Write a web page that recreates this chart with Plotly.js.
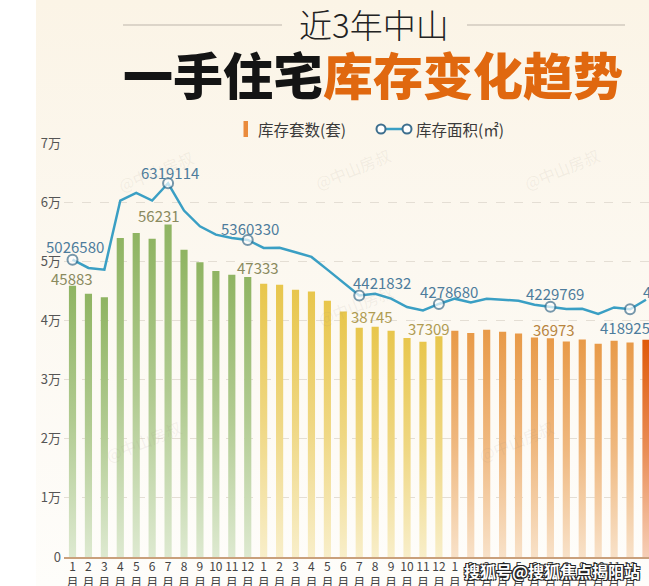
<!DOCTYPE html>
<html>
<head>
<meta charset="utf-8">
<script src="https://cdn.plot.ly/plotly-3.0.1.min.js"></script>
<style>
  html, body { margin:0; padding:0; background:#ffffff; }
  #wrap { position:relative; width:649px; height:586px; overflow:hidden; background:#ffffff; }
  #panel { position:absolute; left:36px; top:0; width:613px; height:586px;
           background:linear-gradient(#fbf4e6 0%, #fcf8f0 45%, #fefdfa 100%); }
  #chart { position:absolute; left:0; top:0; width:649px; height:586px; }
</style>
</head>
<body>
<div id="wrap"><div id="panel"></div><div id="chart"></div></div>
<script>
// ---------- data ----------
var months = [1,2,3,4,5,6,7,8,9,10,11,12,
              1,2,3,4,5,6,7,8,9,10,11,12,
              1,2,3,4,5,6,7,8,9,10,11,12,
              1];
var stockUnits = [45883,44520,43900,53950,54800,53830,56231,51970,49820,48370,47740,47333,
                  46220,46050,45200,44910,43340,41530,38745,38940,38260,37020,36400,37309,
                  38260,37870,38430,38090,37800,37130,36973,36450,36790,36060,36570,36280,
                  36740];
var stockArea = [5026580,4887000,4859000,6027000,6157000,6027000,6319114,5857000,5592000,5451000,5395000,5360330,
                 5226000,5230000,5152000,5074000,4859000,4634000,4421832,4452000,4368000,4227000,4170000,4278680,
                 4368000,4305000,4368000,4351000,4334000,4266000,4229769,4193000,4198000,4109000,4220000,4189255,
                 4350000];
var yearGroup = [0,0,0,0,0,0,0,0,0,0,0,0,
                 1,1,1,1,1,1,1,1,1,1,1,1,
                 2,2,2,2,2,2,2,2,2,2,2,2,
                 3];
var groupColors = ['#8fb462', '#e8c64c', '#e89a48', '#e05a0a'];
var unitLabelColors = ['#8a8a5e', '#b09c52', '#b8843e', '#b8843e'];
var yTickVals = [0,10000,20000,30000,40000,50000,60000,70000];
var yTickText = ['0','1万','2万','3万','4万','5万','6万','7万'];
var unitLabelIdx = [0,6,11,18,23,30];
var areaLabelIdx = [0,6,11,18,23,30,35,36];
var seriesNames = ['库存套数(套)', '库存面积(㎡)'];

// ---------- layout helpers (pixel -> paper) ----------
var PL = 64, PR = 649, PT = 143, PB = 557;
function px(x){ return (x - PL) / (PR - PL); }
function py(y){ return (PB - y) / (PB - PT); }

var idx = months.map(function(_, i){ return i; });

var barTrace = {
  type:'bar', x:idx, y:stockUnits, width:0.45, name:seriesNames[0],
  marker:{ color: yearGroup.map(function(g){ return groupColors[g]; }) },
  hoverinfo:'none', showlegend:false
};
var markerSizes = idx.map(function(i){ return areaLabelIdx.indexOf(i) >= 0 && i < 36 ? 10 : 0; });
var lineTrace = {
  type:'scatter', mode:'lines+markers', x:idx, y:stockArea, yaxis:'y2', name:seriesNames[1],
  line:{ color:'#3a9fc4', width:2.5 },
  marker:{ size:markerSizes, color:'#ffffff', line:{ color:'#3e6f8e', width:2 } },
  cliponaxis:false, hoverinfo:'none', showlegend:false
};

var annotations = [];
// unit labels (offsets: [xshift, yshift])
var unitOffsets = {0:[-0.5,7], 6:[-9,9], 11:[10,10], 18:[13,11], 23:[-10,8], 30:[4,9]};
unitLabelIdx.forEach(function(i){
  annotations.push({ x:i, y:stockUnits[i], xref:'x', yref:'y', text:String(stockUnits[i]),
    showarrow:false, xanchor:'center', yanchor:'middle',
    xshift:unitOffsets[i][0], yshift:unitOffsets[i][1],
    font:{ size:15, color:unitLabelColors[yearGroup[i]] } });
});
var areaOffsets = {0:[2.5,13], 6:[1.5,11], 11:[2,11.5], 18:[23,12.5], 23:[10.5,12.6], 30:[4.5,13], 35:[-1,-18]};
areaLabelIdx.forEach(function(i){
  if (i === 36) {
    annotations.push({ x:i, y:stockArea[i], xref:'x', yref:'y2', text:String(stockArea[i]),
      showarrow:false, xanchor:'left', yanchor:'middle', xshift:-5, yshift:8,
      font:{ size:15, color:'#4d7c9c' } });
    return;
  }
  annotations.push({ x:i, y:stockArea[i], xref:'x', yref:'y2', text:String(stockArea[i]),
    showarrow:false, xanchor:'center', yanchor:'middle',
    xshift:areaOffsets[i][0], yshift:areaOffsets[i][1],
    font:{ size:15, color:'#4d7c9c' } });
});
// titles
annotations.push({ xref:'paper', yref:'paper', x:px(374), y:py(24), text:'近3年中山', showarrow:false,
  xanchor:'center', yanchor:'middle', font:{ size:33, color:'#222222', family:'Noto Sans CJK SC', weight:300 } });
annotations.push({ xref:'paper', yref:'paper', x:px(372.5), y:py(73), showarrow:false,
  text:'<span style="color:#141414">一手住宅</span><span style="color:#e0680f">库存变化趋势</span>',
  xanchor:'center', yanchor:'middle', font:{ size:50, family:'Noto Sans CJK SC', weight:900 } });
// legend texts
annotations.push({ xref:'paper', yref:'paper', x:px(256), y:py(129), text:seriesNames[0], showarrow:false,
  xanchor:'left', yanchor:'middle', font:{ size:15.5, color:'#3a3a3a' } });
annotations.push({ xref:'paper', yref:'paper', x:px(414), y:py(129), text:seriesNames[1], showarrow:false,
  xanchor:'left', yanchor:'middle', font:{ size:15.5, color:'#3a3a3a' } });
// faint watermarks
[[112,142],[352,140],[605,140],[355,305],[100,470],[560,470]].forEach(function(p){
  annotations.push({ xref:'paper', yref:'paper', x:px(p[0]), y:py(p[1]), text:'@中山房叔', showarrow:false,
    textangle:-22, font:{ size:16, color:'rgba(150,135,120,0.10)' } });
});
// bottom source watermark
annotations.push({ xref:'paper', yref:'paper', x:px(552), y:py(571), text:'搜狐号@搜狐焦点揭阳站', showarrow:false,
  xanchor:'center', yanchor:'middle',
  font:{ size:16, color:'#ffffff', weight:700,
         shadow:'1px 1px 0 #222, -1px -1px 0 #222, 1px -1px 0 #222, -1px 1px 0 #222' } });

var rx = 4.5 / (PR - PL), ry = 4.5 / (PB - PT);
var shapes = [
  { type:'line', xref:'paper', yref:'paper', x0:px(123), x1:px(282), y0:py(25), y1:py(25), line:{ color:'#bdb5ab', width:1 } },
  { type:'line', xref:'paper', yref:'paper', x0:px(467), x1:px(625), y0:py(25), y1:py(25), line:{ color:'#bdb5ab', width:1 } },
  { type:'rect', xref:'paper', yref:'paper', x0:px(243.5), x1:px(248), y0:py(137), y1:py(121), fillcolor:'#ea8b3c', line:{ width:0 } },
  { type:'line', xref:'paper', yref:'paper', x0:px(381), x1:px(407), y0:py(129), y1:py(129), line:{ color:'#3a9fc4', width:2.5 } },
  { type:'circle', xref:'paper', yref:'paper', x0:px(381)-rx, x1:px(381)+rx, y0:py(129)-ry, y1:py(129)+ry, fillcolor:'#ffffff', line:{ color:'#3e6f8e', width:2 } },
  { type:'circle', xref:'paper', yref:'paper', x0:px(407)-rx, x1:px(407)+rx, y0:py(129)-ry, y1:py(129)+ry, fillcolor:'#ffffff', line:{ color:'#3e6f8e', width:2 } }
];

var layout = {
  width:649, height:586,
  margin:{ l:PL, r:649-PR, t:PT, b:586-PB, pad:0 },
  paper_bgcolor:'rgba(0,0,0,0)', plot_bgcolor:'rgba(0,0,0,0)',
  font:{ family:'Noto Sans CJK SC, Noto Sans, sans-serif', color:'#444444' },
  bargap:0.5,
  xaxis:{ range:[-0.534, 36.19], tickmode:'array', tickvals:idx,
          ticktext:months.map(function(m){ return m + '<br>月'; }),
          tickfont:{ size:12, color:'#444444' }, showgrid:false, zeroline:false,
          showline:true, linecolor:'#c9a07c', linewidth:1.5, ticks:'', ticklabelstandoff:-2, fixedrange:true },
  yaxis:{ range:[0,70000], tickmode:'array', tickvals:yTickVals, ticktext:yTickText,
          tickfont:{ size:13, color:'#555555' }, showgrid:true, gridcolor:'#e4ded4', griddash:'dash',
          gridwidth:1, zeroline:false, showline:false, ticks:'', ticklabelstandoff:2 },
  yaxis2:{ range:[0,7000000], overlaying:'y', visible:false, showgrid:false, zeroline:false },
  annotations:annotations, shapes:shapes, showlegend:false
};

var gd = document.getElementById('chart');
Plotly.newPlot(gd, [barTrace, lineTrace], layout, { staticPlot:true, displayModeBar:false }).then(function(){
  var svg = gd.querySelector('svg.main-svg');
  var ns = 'http://www.w3.org/2000/svg';
  var defs = svg.querySelector('defs');
  if (!defs) { defs = document.createElementNS(ns, 'defs'); svg.insertBefore(defs, svg.firstChild); }
  var made = {}, n = 0;
  function lighten(c, t){
    var m = c.match(/\d+(\.\d+)?/g).map(Number);
    return 'rgb(' + [0,1,2].map(function(k){ return Math.round(m[k] + (255 - m[k]) * t); }).join(',') + ')';
  }
  gd.querySelectorAll('.barlayer .point path').forEach(function(p){
    var c = p.style.fill;
    if (!c || c.indexOf('rgb') !== 0) return;
    if (!made[c]) {
      var id = 'bargrad' + (n++);
      var g = document.createElementNS(ns, 'linearGradient');
      g.setAttribute('id', id); g.setAttribute('x1','0'); g.setAttribute('y1','0');
      g.setAttribute('x2','0'); g.setAttribute('y2','1');
      [[0, c],[0.5, lighten(c, 0.3)],[1, lighten(c, 0.7)]].forEach(function(s){
        var st = document.createElementNS(ns, 'stop');
        st.setAttribute('offset', s[0]); st.setAttribute('stop-color', s[1]);
        g.appendChild(st);
      });
      defs.appendChild(g);
      made[c] = id;
    }
    p.style.fill = 'url(#' + made[c] + ')';
  });
});
</script>
</body>
</html>
